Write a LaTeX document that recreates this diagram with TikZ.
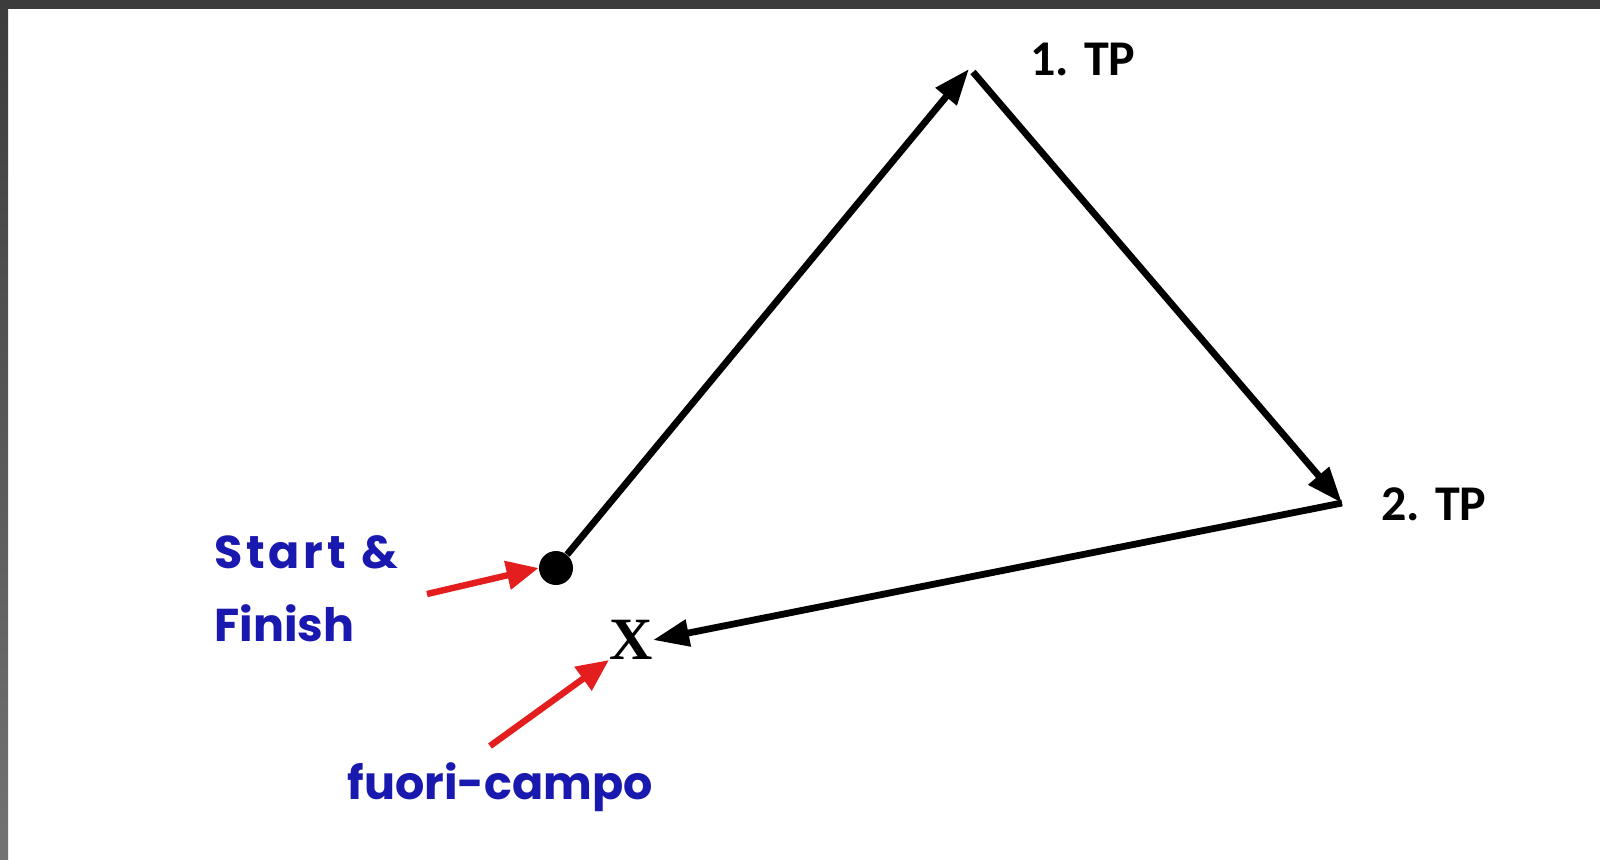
\documentclass[tikz,border=0pt]{standalone}
\usepackage{fontspec}
\setmainfont{Liberation Serif}
\newfontfamily\calib{Carlito}
\newfontfamily\comic{Poppins}
\newfontfamily\comicwide[LetterSpace=8]{Poppins}
\usetikzlibrary{arrows.meta}
\definecolor{frame}{RGB}{60,60,60}
\definecolor{labelblue}{RGB}{25,25,175}
\definecolor{pointred}{RGB}{228,30,30}
\tikzset{
  legarrow/.style={line width=3.4pt, -{Triangle[length=18pt,width=13pt]}, black},
  redarrow/.style={line width=3.2pt, -{Triangle[length=16pt,width=14pt]}, pointred},
  tplabel/.style={font=\calib\bfseries\fontsize{25}{28}\selectfont, inner sep=0pt},
  bluelabel/.style={font=\comic\bfseries\fontsize{23}{26}\selectfont, text=labelblue, inner sep=0pt},
}
\begin{document}
\begin{tikzpicture}[x=0.5pt,y=-0.5pt]
\useasboundingbox (0,0) rectangle (1600,859);
\fill[white] (0,0) rectangle (1600,859);
% frame bands
\fill[frame] (0,0) rectangle (1600,9);
\shade[top color=frame, bottom color=black!55] (0,0) rectangle (8,859);
% nodes
\node[circle, fill=black, minimum size=17pt, inner sep=0pt] (start) at (556,568) {};
\coordinate (tp1) at (969,69);
\coordinate (tp1b) at (973,72);
\coordinate (tp2) at (1342,503);
\node[inner sep=0pt, font=\bfseries\fontsize{30}{32}\selectfont] (xf) at (631,640) {X};
% labels
\node[tplabel] (l1) at (1083,59) {1. TP};
\node[tplabel] (l2) at (1434,504) {2. TP};
\node[bluelabel, anchor=west] (sf1) at (214,552) {{\comicwide\bfseries Start}\hspace{0.35em}\&};
\node[bluelabel, anchor=west] (sf2) at (214,623) {Finish};
\node[bluelabel] (fc) at (500,787) {fuori-campo};
% legs
\draw[legarrow] (start) -- (tp1);
\draw[legarrow] (tp1b) -- (tp2);
\draw[legarrow] (tp2) -- (xf.east);
% pointers
\coordinate (r1) at (427,594);
\coordinate (r2) at (490,746);
\draw[redarrow] (r1) -- (start.west);
\draw[redarrow] (r2) -- (xf.south west);
\end{tikzpicture}
\end{document}
